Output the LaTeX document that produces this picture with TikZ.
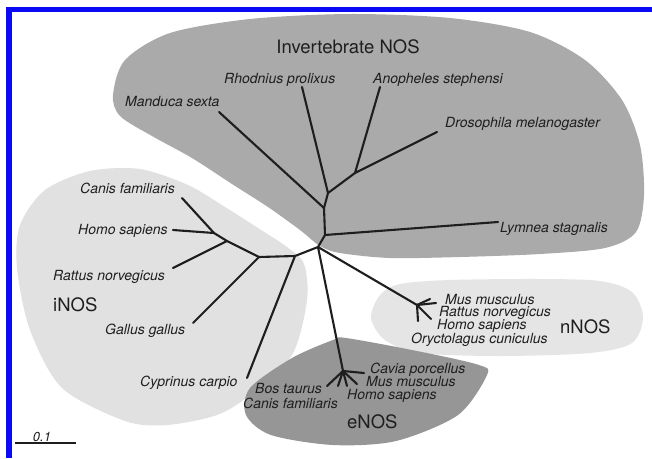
\documentclass[tikz,border=0pt]{standalone}
\usepackage{fontspec}
\newfontfamily\helv{TeX Gyre Heros}
\definecolor{invgray}{RGB}{170,170,170}
\definecolor{egray}{RGB}{150,150,150}
\definecolor{igray}{RGB}{225,225,225}
\definecolor{ngray}{RGB}{229,229,229}
\definecolor{frameblue}{RGB}{10,10,245}
\definecolor{ink}{RGB}{30,30,30}
\begin{document}
\begin{tikzpicture}[x=1pt,y=-1pt,
  lab/.style={font=\helv\itshape\fontsize{14}{12}\selectfont, text=ink, inner sep=0pt, text height=8pt, text depth=0pt, anchor=west},
  grp/.style={font=\helv\fontsize{18.5}{18.5}\selectfont, text=ink, inner sep=0pt, text height=13pt, text depth=0pt, anchor=west},
  br/.style={line width=2.1pt, draw=ink, line cap=round, line join=round}]
\useasboundingbox (0,0) rectangle (652,458);
\fill[white] (0,0) rectangle (652,458);
% regions
\fill[invgray] plot[smooth cycle] coordinates {(113,95) (125,60) (170,33) (250,19) (350,14) (450,18) (530,32) (585,60) (622,100) (640,145) (644,195) (636,232) (605,248) (540,254) (460,257) (390,258) (340,253) (320,246) (300,230) (268,207) (232,184) (192,158) (152,136) (120,116)};
\fill[igray] plot[smooth cycle] coordinates {(17,268) (20,225) (45,190) (90,171) (140,169) (188,185) (225,207) (258,228) (287,247) (304,264) (307,300) (292,355) (250,395) (217,415) (167,425) (125,421) (62,388) (30,330)};
\fill[ngray] plot[smooth cycle] coordinates {(371,318) (380,295) (400,284) (450,280) (540,279) (600,281) (632,292) (643,317) (632,343) (590,353) (500,356) (420,353) (385,340)};
\fill[egray] plot[smooth cycle] coordinates {(246,415) (250,388) (292,358) (333,340) (346,338) (417,351) (479,365) (487,375) (458,415) (396,441) (333,445) (271,435)};
% frame
\fill[frameblue] (6,7) rectangle (652,12);
\fill[frameblue] (6,7) rectangle (12,458);
% tree junctions
\coordinate (O) at (318,247);
\coordinate (T1) at (325,235);
\coordinate (T2) at (324,208);
\coordinate (T3) at (328,193);
\coordinate (T4) at (355,173);
\coordinate (lLym) at (498,222);
\coordinate (lMan) at (219,112);
\coordinate (lRho) at (302,87);
\coordinate (lAno) at (380,87);
\coordinate (lDro) at (437,132);
\coordinate (P1) at (295,256);
\coordinate (P2) at (259,257);
\coordinate (P3) at (227,241);
\coordinate (P4) at (214,233);
\coordinate (lCyp) at (247,378);
\coordinate (lGal) at (193,323);
\coordinate (lRat) at (173,268);
\coordinate (lCan) at (182,198);
\coordinate (lHom) at (173,230);
\coordinate (E) at (343,371);
\coordinate (e1) at (364,373);
\coordinate (e2) at (357,384);
\coordinate (e3) at (347,386);
\coordinate (e4) at (338,386);
\coordinate (e5) at (327,386);
\coordinate (N) at (417,305);
\coordinate (n1) at (436,303);
\coordinate (n2) at (430,299);
\coordinate (n3) at (418,321);
\coordinate (n4) at (431,319);
% branches
\draw[br] (O) -- (T1) -- (T2) -- (T3) -- (T4);
\draw[br] (T1) -- (lLym);
\draw[br] (T2) -- (lMan);
\draw[br] (T3) -- (lRho);
\draw[br] (T4) -- (lAno);
\draw[br] (T4) -- (lDro);
\draw[br] (O) -- (P1) -- (P2) -- (P3) -- (P4);
\draw[br] (P1) -- (lCyp);
\draw[br] (P2) -- (lGal);
\draw[br] (P3) -- (lRat);
\draw[br] (P4) -- (lCan);
\draw[br] (P4) -- (lHom);
\draw[br] (O) -- (E);
\draw[br] (E) -- (e1);
\draw[br] (E) -- (e2);
\draw[br] (E) -- (e3);
\draw[br] (E) -- (e4);
\draw[br] (E) -- (e5);
\draw[br] (O) -- (N);
\draw[br] (N) -- (n1);
\draw[br] (N) -- (n2);
\draw[br] (N) -- (n3);
\draw[br] (N) -- (n4);
% labels
\node[grp, anchor=center] (tInv) at (348,47) {Invertebrate NOS};
\node[lab] (tRho) at (224,79) {Rhodnius prolixus};
\node[lab] (tAno) at (373,79) {Anopheles stephensi};
\node[lab] (tMan) at (125,102) {Manduca sexta};
\node[lab] (tDro) at (445,123) {Drosophila melanogaster};
\node[lab] (tLym) at (500,228) {Lymnea stagnalis};
\node[lab] (tCanI) at (80,189) {Canis familiaris};
\node[lab] (tHomI) at (78,230) {Homo sapiens};
\node[lab] (tRatI) at (53,276) {Rattus norvegicus};
\node[grp] (tiNOS) at (53,305) {iNOS};
\node[lab] (tGal) at (105,330) {Gallus gallus};
\node[lab] (tCyp) at (140,382) {Cyprinus carpio};
\node[lab] (tMusN) at (445,300) {Mus musculus};
\node[lab] (tRatN) at (439,312.5) {Rattus norvegicus};
\node[lab] (tHomN) at (437,325) {Homo sapiens};
\node[lab] (tOry) at (411,339) {Oryctolagus cuniculus};
\node[grp] (tnNOS) at (560,327) {nNOS};
\node[lab] (tCav) at (370,369.5) {Cavia porcellus};
\node[lab] (tMusE) at (366,382.5) {Mus musculus};
\node[lab] (tHomE) at (347,395) {Homo sapiens};
\node[lab] (tBos) at (255,389.5) {Bos taurus};
\node[lab] (tCanE) at (243,404.5) {Canis familiaris};
\node[grp] (teNOS) at (347,422) {eNOS};
% scale bar
\coordinate (s1) at (15,443);
\coordinate (s2) at (76,443);
\draw[line width=1.2pt, draw=ink] (s1) -- (s2);
\node[lab, anchor=base, font=\helv\itshape\fontsize{13}{13}\selectfont] (tScale) at (42,441) {0.1};
\end{tikzpicture}
\end{document}
